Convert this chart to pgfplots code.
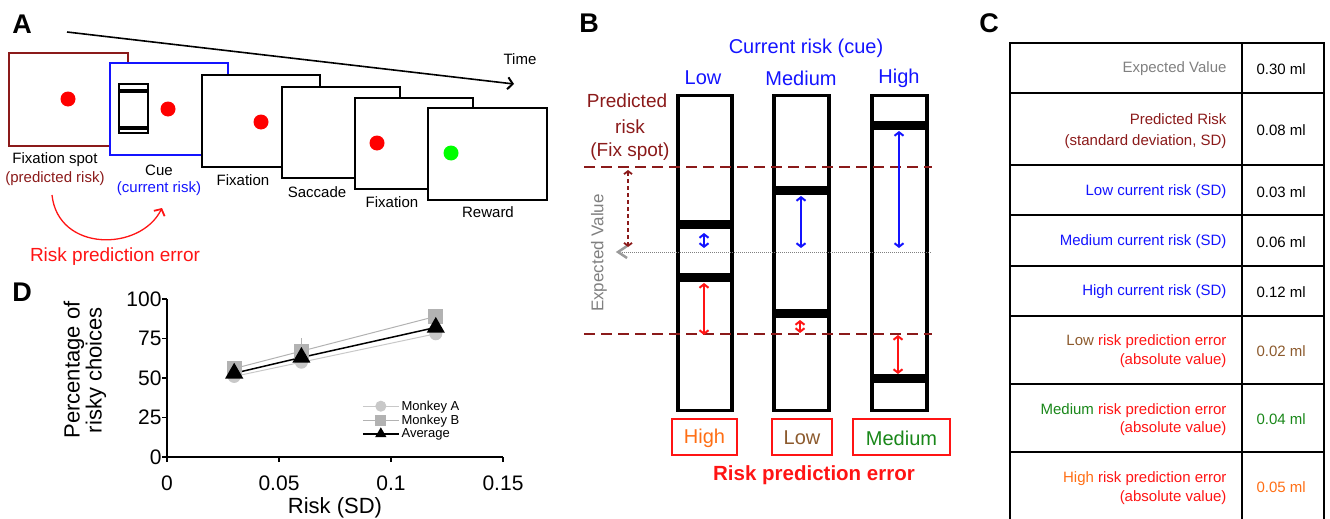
\documentclass[border=0pt]{standalone}
\usepackage{pgfplots}
\pgfplotsset{compat=1.18}
\usepackage{fontspec}
\setmainfont{Liberation Sans}
\usetikzlibrary{arrows.meta}
\definecolor{dred}{RGB}{139,26,26}
\definecolor{bblue}{RGB}{20,20,255}
\definecolor{rred}{RGB}{255,20,20}
\definecolor{oorange}{RGB}{255,110,20}
\definecolor{bbrown}{RGB}{140,90,45}
\definecolor{ggreen}{RGB}{25,135,25}
\definecolor{gtext}{RGB}{128,128,128}
\definecolor{gA}{RGB}{200,200,200}
\definecolor{gB}{RGB}{178,178,178}
\newcommand{\fs}[1]{\fontsize{#1}{#1}\selectfont}
\tikzset{dbl/.style={line width=1.5, {Straight Barb[length=3.5pt,width=9pt,line width=2pt]}-{Straight Barb[length=3.5pt,width=9pt,line width=2pt]}}}
\begin{document}
\begin{tikzpicture}
% ---------- background canvas (pixel coordinates) ----------
\begin{axis}[at={(0pt,0pt)}, anchor=south west, scale only axis,
  width=1330pt, height=519pt, xmin=0, xmax=1330, ymin=0, ymax=519,
  y dir=reverse, hide axis, clip=false]
% ===== Panel A =====
\node[font=\fs{27}\bfseries] at (22,24) {A};
\draw[line width=1.6, -{Straight Barb[length=5pt,width=12pt,line width=2pt]}] (67,32) -- (514,84);
\node[font=\fs{15}] at (520,59) {Time};
% box 1
\draw[dred, line width=1.5, fill=white] (9,53) rectangle (128,146);
\fill[red] (68,99) circle[radius=7.5pt];
% box 2
\draw[bblue, line width=1.5, fill=white] (110,63) rectangle (228,155);
\draw[black, line width=1.3, fill=white] (119,84) rectangle (148,133);
\fill[black] (119,89) rectangle (148,93);
\fill[black] (119,126) rectangle (148,130);
\fill[red] (168,109) circle[radius=7.5pt];
% box 3
\draw[black, line width=1.5, fill=white] (202,75) rectangle (320,167);
\fill[red] (261,122) circle[radius=7.5pt];
% box 4
\draw[black, line width=1.5, fill=white] (282,87) rectangle (400,178);
% box 5
\draw[black, line width=1.5, fill=white] (355,98) rectangle (473,189);
\fill[red] (377,143) circle[radius=7.5pt];
% box 6
\draw[black, line width=1.5, fill=white] (428,108) rectangle (547,200);
\fill[green] (451,153) circle[radius=7.5pt];
% labels
\node[font=\fs{15}] at (55,160) {Fixation spot};
\node[font=\fs{15}, dred] at (55,179) {(predicted risk)};
\node[font=\fs{15}] at (159,170) {Cue};
\node[font=\fs{15}, bblue] at (159,189) {(current risk)};
\node[font=\fs{15}] at (243,180) {Fixation};
\node[font=\fs{15}] at (317,192) {Saccade};
\node[font=\fs{15}] at (392,202) {Fixation};
\node[font=\fs{15}] at (488,212) {Reward};
\draw[rred, line width=1.3, -{Straight Barb[length=5pt,width=12pt,line width=1.8pt]}] (52,195) .. controls (58,252) and (140,252) .. (162,208);
\node[font=\fs{19}, rred] at (115,257) {Risk prediction error};
% ===== Panel B =====
\node[font=\fs{27}\bfseries] at (589,23) {B};
\node[font=\fs{20}, bblue] at (806,48) {Current risk (cue)};
\node[font=\fs{20}, bblue] at (703,78) {Low};
\node[font=\fs{20}, bblue] at (801,78) {Medium};
\node[font=\fs{20}, bblue] at (899,78) {High};
\node[font=\fs{19}, dred] at (627,101) {Predicted};
\node[font=\fs{19}, dred] at (630,127) {risk};
\node[font=\fs{19}, dred] at (630,152) {(Fix spot)};
% columns
\draw[black, line width=3.5, fill=white] (678,95.5) rectangle (732,410.5);
\draw[black, line width=3.5, fill=white] (774,95.5) rectangle (829,410.5);
\draw[black, line width=3.5, fill=white] (872,95.5) rectangle (927,410.5);
% reference lines
\draw[dred, line width=1.3, dash pattern=on 11pt off 6pt] (584,167) -- (932,167);
\draw[dred, line width=1.3, dash pattern=on 11pt off 6pt] (584,334) -- (932,334);
\draw[gtext, line width=0.8, dash pattern=on 1pt off 1pt] (622,252) -- (932,252);
\draw[gtext!80, line width=2.5] (627,246) -- (618,252) -- (627,258);
\node[rotate=90, gtext, font=\fs{17}] at (599,253) {Expected Value};
\draw[dred, line width=1.5, dash pattern=on 4pt off 3pt, {Straight Barb[length=3pt,width=8pt,line width=1.8pt]}-{Straight Barb[length=3pt,width=8pt,line width=1.8pt]}] (628,170) -- (628,247);
% bars
\fill[black] (678,220) rectangle (732,229);
\fill[black] (678,273) rectangle (732,282);
\fill[black] (774,186) rectangle (829,195);
\fill[black] (772,309) rectangle (829,318);
\fill[black] (872,121) rectangle (927,130);
\fill[black] (872,374) rectangle (927,383);
% arrows
\draw[bblue, dbl] (704,233) -- (704,248);
\draw[bblue, dbl] (801,196) -- (801,248);
\draw[bblue, dbl] (899,131) -- (899,248);
\draw[rred, dbl] (704,283) -- (704,335);
\draw[rred, dbl] (800,320) -- (800,333);
\draw[rred, dbl] (898,335) -- (898,374);
% bottom boxes
\draw[rred, line width=1.2] (672,419) rectangle (737,455);
\draw[rred, line width=1.2] (772,419) rectangle (832,455);
\draw[rred, line width=1.2] (853,419) rectangle (950,455);
\node[font=\fs{20}, oorange] at (704.5,438) {High};
\node[font=\fs{20}, bbrown] at (802,438) {Low};
\node[font=\fs{20}, ggreen] at (901.5,438) {Medium};
\node[font=\fs{20.5}\bfseries, rred] at (814,475) {Risk prediction error};
% ===== Panel C =====
\node[font=\fs{27}\bfseries] at (989,23) {C};
\draw[line width=1.8] (1010,519) -- (1010,43) -- (1324,43) -- (1324,519);
\draw[line width=1.8] (1242,43) -- (1242,519);
\draw[line width=1.8] (1010,93) -- (1324,93);
\draw[line width=1.8] (1010,165) -- (1324,165);
\draw[line width=1.8] (1010,215) -- (1324,215);
\draw[line width=1.8] (1010,266) -- (1324,266);
\draw[line width=1.8] (1010,316) -- (1324,316);
\draw[line width=1.8] (1010,384) -- (1324,384);
\draw[line width=1.8] (1010,452) -- (1324,452);
\node[font=\fs{15}, gtext, anchor=east] at (1230,69) {Expected Value};
\node[font=\fs{15}, anchor=west] at (1253,69) {0.30 ml};
\node[font=\fs{15}, dred, anchor=east] at (1230,119) {Predicted Risk};
\node[font=\fs{15}, dred, anchor=east] at (1230,142) {(standard deviation, SD)};
\node[font=\fs{15}, anchor=west] at (1253,130) {0.08 ml};
\node[font=\fs{15}, bblue, anchor=east] at (1230,192) {Low current risk (SD)};
\node[font=\fs{15}, anchor=west] at (1253,192) {0.03 ml};
\node[font=\fs{15}, bblue, anchor=east] at (1230,242) {Medium current risk (SD)};
\node[font=\fs{15}, anchor=west] at (1253,242) {0.06 ml};
\node[font=\fs{15}, bblue, anchor=east] at (1230,292) {High current risk (SD)};
\node[font=\fs{15}, anchor=west] at (1253,292) {0.12 ml};
\node[font=\fs{15}, anchor=east] at (1230,342) {\textcolor{bbrown}{Low} \textcolor{rred}{risk prediction error}};
\node[font=\fs{15}, rred, anchor=east] at (1230,361) {(absolute value)};
\node[font=\fs{15}, bbrown, anchor=west] at (1253,351) {0.02 ml};
\node[font=\fs{15}, anchor=east] at (1230,411) {\textcolor{ggreen}{Medium} \textcolor{rred}{risk prediction error}};
\node[font=\fs{15}, rred, anchor=east] at (1230,429) {(absolute value)};
\node[font=\fs{15}, ggreen, anchor=west] at (1253,419) {0.04 ml};
\node[font=\fs{15}, anchor=east] at (1230,479) {\textcolor{oorange}{High} \textcolor{rred}{risk prediction error}};
\node[font=\fs{15}, rred, anchor=east] at (1230,498) {(absolute value)};
\node[font=\fs{15}, oorange, anchor=west] at (1253,487) {0.05 ml};
% ===== Panel D label =====
\node[font=\fs{27}\bfseries] at (22,292) {D};
\end{axis}
% ---------- Panel D chart ----------
\begin{axis}[at={(167pt,62pt)}, anchor=south west, scale only axis,
  width=336pt, height=158pt,
  xmin=0, xmax=0.15, ymin=0, ymax=100,
  axis lines=left, axis line style={-, line width=1.3pt},
  xtick={0,0.05,0.1,0.15}, xticklabels={0,0.05,0.1,0.15},
  ytick={0,25,50,75,100}, yticklabels={0,25,50,75,100},
  tick align=outside, major tick length=5pt,
  tick style={line width=1.3pt, black},
  ticklabel style={font=\fs{21}},
  xticklabel style={yshift=-10pt},
  yticklabel style={xshift=3pt},
  xlabel={Risk (SD)}, ylabel={Percentage of\\risky choices},
  xlabel style={font=\fs{22}, at={(axis description cs:0.5,-0.323)}, anchor=center},
  ylabel style={font=\fs{22}, align=center, at={(axis description cs:-0.244,0.55)}, anchor=center},
  legend style={at={(axis description cs:0.58,0.37)}, anchor=north west, draw=none, fill=none,
    font=\fs{13}, inner sep=0pt, row sep=-1pt},
  legend cell align=left,
  legend image code/.code={\draw[mark repeat=2,mark phase=2] plot coordinates {(0pt,0pt) (18pt,0pt) (36pt,0pt)};},
  legend image post style={mark size=5pt},
]
\addplot[color=gA, line width=1pt, mark=*, mark size=6pt, mark options={fill=gA, draw=gA}]
  coordinates {(0.03,51) (0.06,60) (0.12,78)};
\addlegendentry{Monkey A}
\addplot[color=gB, line width=1pt, mark=square*, mark size=7pt, mark options={fill=gB, draw=gB},
  error bars/.cd, y dir=plus, y explicit, error mark=none, error bar style={line width=1pt, color=gB}]
  coordinates {(0.03,56) +- (0,1) (0.06,67) +- (0,8) (0.12,89) +- (0,1)};
\addlegendentry{Monkey B}
\addplot[black, line width=1.5pt, mark=triangle*, mark size=9pt]
  coordinates {(0.03,53) (0.06,63) (0.12,82)};
\addlegendentry{Average}
\end{axis}
\pgfresetboundingbox
\path[use as bounding box] (0,0) rectangle (1330pt,519pt);
\end{tikzpicture}
\end{document}
